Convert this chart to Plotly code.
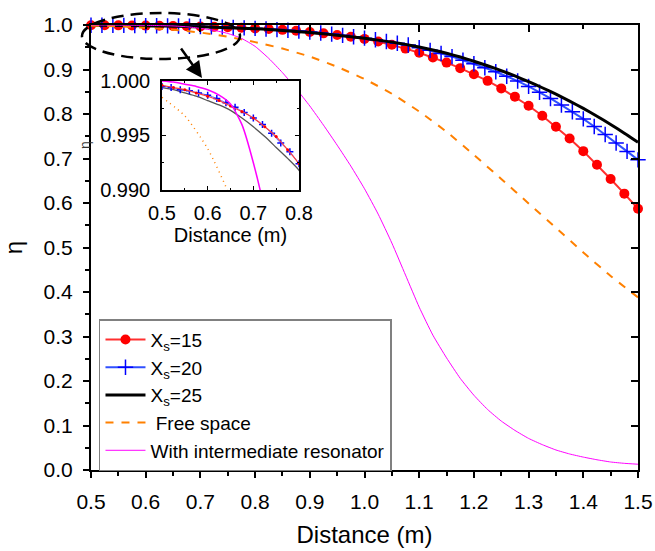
import plotly.graph_objects as go

# ---------------- data ----------------
dist_025 = [0.5, 0.525, 0.55, 0.575, 0.6, 0.625, 0.65, 0.675, 0.7, 0.725,
            0.75, 0.775, 0.8, 0.825, 0.85, 0.875, 0.9, 0.925, 0.95, 0.975,
            1.0, 1.025, 1.05, 1.075, 1.1, 1.125, 1.15, 1.175, 1.2, 1.225,
            1.25, 1.275, 1.3, 1.325, 1.35, 1.375, 1.4, 1.425, 1.45, 1.475, 1.5]

dist_020 = [0.5, 0.52, 0.54, 0.56, 0.58, 0.6, 0.62, 0.64, 0.66, 0.68,
            0.7, 0.72, 0.74, 0.76, 0.78, 0.8, 0.82, 0.84, 0.86, 0.88,
            0.9, 0.92, 0.94, 0.96, 0.98, 1.0, 1.02, 1.04, 1.06, 1.08,
            1.1, 1.12, 1.14, 1.16, 1.18, 1.2, 1.22, 1.24, 1.26, 1.28,
            1.3, 1.32, 1.34, 1.36, 1.38, 1.4, 1.42, 1.44, 1.46, 1.48, 1.5]

dist_050 = [0.5, 0.55, 0.6, 0.65, 0.7, 0.75, 0.8, 0.85, 0.9, 0.95,
            1.0, 1.05, 1.1, 1.15, 1.2, 1.25, 1.3, 1.35, 1.4, 1.45, 1.5]

eta_xs15 = [0.9996, 0.9994, 0.9992, 0.9989, 0.9986, 0.9982, 0.9977, 0.9972, 0.9966, 0.9958,
            0.9949, 0.9937, 0.9924, 0.9909, 0.9891, 0.9869, 0.9843, 0.9812, 0.9776, 0.9735,
            0.9688, 0.9628, 0.9555, 0.9470, 0.9375, 0.9270, 0.9155, 0.9030, 0.8895, 0.8745,
            0.8575, 0.8390, 0.8185, 0.7960, 0.7715, 0.7450, 0.7165, 0.6860, 0.6540, 0.6210, 0.5870]

eta_xs20 = [0.9995, 0.9994, 0.9992, 0.9991, 0.9989, 0.9987, 0.9984, 0.9980, 0.9976, 0.9971,
            0.9966, 0.9960, 0.9952, 0.9943, 0.9935, 0.9924, 0.9911, 0.9897, 0.9881, 0.9863,
            0.9843, 0.9820, 0.9795, 0.9767, 0.9737, 0.9705, 0.9670, 0.9630, 0.9590, 0.9550,
            0.9490, 0.9430, 0.9360, 0.9290, 0.9210, 0.9130, 0.9040, 0.8950, 0.8850, 0.8740,
            0.8620, 0.8490, 0.8350, 0.8200, 0.8050, 0.7890, 0.7720, 0.7540, 0.7350, 0.7160, 0.6970]

eta_xs25 = [0.9994, 0.9992, 0.9989, 0.9986, 0.9982, 0.9978, 0.9973, 0.9966, 0.9958, 0.9949,
            0.9939, 0.9929, 0.9918, 0.9898, 0.9877, 0.9855, 0.9830, 0.9803, 0.9772, 0.9738,
            0.9700, 0.9660, 0.9615, 0.9565, 0.9505, 0.9440, 0.9365, 0.9280, 0.9185, 0.9085,
            0.8975, 0.8855, 0.8725, 0.8590, 0.8445, 0.8290, 0.8125, 0.7950, 0.7765, 0.7570, 0.7365]

eta_free = [0.9985, 0.9968, 0.9938, 0.9893, 0.9830, 0.9735, 0.9615, 0.9470, 0.9290, 0.9060,
            0.8785, 0.8455, 0.8055, 0.7600, 0.7080, 0.6540, 0.5990, 0.5440, 0.4890, 0.4360, 0.3880]

eta_resonator = [1.0000, 0.9999, 0.9997, 0.9995, 0.9992, 0.9987, 0.9979, 0.9960, 0.9925, 0.9880,
                 0.9810, 0.9700, 0.9520, 0.9250, 0.8930, 0.8570, 0.8180, 0.7750, 0.7300, 0.6830,
                 0.6320, 0.5750, 0.5100, 0.4380, 0.3660, 0.3030, 0.2520, 0.2060, 0.1680, 0.1360,
                 0.1100, 0.0890, 0.0710, 0.0570, 0.0450, 0.0360, 0.0290, 0.0230, 0.0180, 0.0150, 0.0130]

series_names = ["X<sub>s</sub>=15", "X<sub>s</sub>=20", "X<sub>s</sub>=25",
                "\u00a0Free space", "With intermediate resonator"]

main_x_range = [0.5, 1.5]
main_y_range = [0.0, 1.0]
inset_x_range = [0.5, 0.8]
inset_y_range = [0.990, 1.000]
inset_y_ticks = [0.990, 0.995, 1.000]

FONT = "Arial, 'Liberation Sans', Helvetica, sans-serif"
RED = "#ff0000"
BLUE = "#0000ff"
ORANGE = "#ff8000"
MAGENTA = "#ff00ff"

fig = go.Figure()

# ---------------- main plot ----------------
fig.add_trace(go.Scatter(
    x=dist_025, y=eta_xs15, name=series_names[0], mode="lines+markers",
    line=dict(color="#ff3030", width=2),
    marker=dict(color=RED, size=10, symbol="circle"), cliponaxis=False))
fig.add_trace(go.Scatter(
    x=dist_020, y=eta_xs20, name=series_names[1], mode="lines+markers",
    line=dict(color="#3050ff", width=2),
    marker=dict(color=BLUE, size=11, symbol="cross-thin", line=dict(color=BLUE, width=1.5)),
    cliponaxis=False))
fig.add_trace(go.Scatter(
    x=dist_025, y=eta_xs25, name=series_names[2], mode="lines",
    line=dict(color="black", width=3, shape="spline", smoothing=0.5), cliponaxis=False))
fig.add_trace(go.Scatter(
    x=dist_050, y=eta_free, name=series_names[3], mode="lines",
    line=dict(color=ORANGE, width=2, dash="8px,8px", shape="spline", smoothing=0.6),
    cliponaxis=False))
fig.add_trace(go.Scatter(
    x=dist_025, y=eta_resonator, name=series_names[4], mode="lines",
    line=dict(color=MAGENTA, width=1, shape="spline", smoothing=0.5), cliponaxis=False))

# dummy trace to create the mirror (top/right) axes with inside ticks
fig.add_trace(go.Scatter(x=[], y=[], xaxis="x2", yaxis="y2", showlegend=False,
                         hoverinfo="skip"))

# ---------------- inset ----------------
fig.add_trace(go.Scatter(
    x=dist_050, y=eta_free, xaxis="x3", yaxis="y3", showlegend=False, mode="lines",
    line=dict(color=ORANGE, width=1.5, dash="1px,4px", shape="spline", smoothing=0.6)))
fig.add_trace(go.Scatter(
    x=dist_025, y=eta_xs25, xaxis="x3", yaxis="y3", showlegend=False, mode="lines",
    line=dict(color="#555555", width=1.3, shape="spline", smoothing=0.6)))
fig.add_trace(go.Scatter(
    x=dist_020, y=eta_xs20, xaxis="x3", yaxis="y3", showlegend=False, mode="lines+markers",
    line=dict(color="#6070ff", width=1, shape="spline", smoothing=0.6),
    marker=dict(color=BLUE, size=5, symbol="cross-thin", line=dict(color=BLUE, width=1.5))))
fig.add_trace(go.Scatter(
    x=dist_025, y=eta_xs15, xaxis="x3", yaxis="y3", showlegend=False, mode="lines+markers",
    line=dict(color="#ff4040", width=1.2, shape="spline", smoothing=0.6),
    marker=dict(color=RED, size=3)))
fig.add_trace(go.Scatter(
    x=dist_025, y=eta_resonator, xaxis="x3", yaxis="y3", showlegend=False, mode="lines",
    line=dict(color=MAGENTA, width=1.5, shape="spline", smoothing=0.6)))

axis_common = dict(showgrid=False, zeroline=False, showline=True, linecolor="black",
                   linewidth=2, tickcolor="black", automargin=False,
                   tickfont=dict(family=FONT, size=21, color="black"))

fig.update_layout(
    width=655, height=551,
    margin=dict(l=91, r=17, t=25, b=81, autoexpand=False),
    paper_bgcolor="white", plot_bgcolor="white",
    font=dict(family=FONT, color="black"),
    showlegend=True,
    legend=dict(x=0.0146, y=0.339, xanchor="left", yanchor="top",
                bordercolor="#808080", borderwidth=1.5, bgcolor="white",
                font=dict(family=FONT, size=19, color="black"),
                itemwidth=40, tracegroupgap=0),
    xaxis=dict(**axis_common, range=main_x_range, tickmode="linear", tick0=0.5, dtick=0.1,
               tickformat=".1f", ticks="outside", ticklen=6, tickwidth=2,
               ticklabelstandoff=6,
               minor=dict(dtick=0.05, ticks="outside", ticklen=4, tickwidth=1.5,
                          tickcolor="black", showgrid=False),
               title=dict(text="Distance (m)", font=dict(family=FONT, size=24), standoff=14)),
    yaxis=dict(**axis_common, range=main_y_range, tickmode="linear", tick0=0, dtick=0.1,
               tickformat=".1f", ticks="outside", ticklen=6, tickwidth=2,
               ticklabelstandoff=6,
               minor=dict(dtick=0.05, ticks="outside", ticklen=4, tickwidth=1.5,
                          tickcolor="black", showgrid=False),
               title=dict(text="η", font=dict(family=FONT, size=24), standoff=16)),
    xaxis2=dict(overlaying="x", side="top", anchor="y", range=main_x_range,
                tickmode="linear", tick0=0.5, dtick=0.2, ticks="inside", ticklen=7,
                tickwidth=2, tickcolor="black", showticklabels=False, showline=True,
                linecolor="black", linewidth=2, showgrid=False, zeroline=False,
                automargin=False,
                minor=dict(dtick=0.1, ticks="inside", ticklen=4, tickwidth=2,
                           tickcolor="black", showgrid=False)),
    yaxis2=dict(overlaying="y", side="right", anchor="x", range=main_y_range,
                tickmode="linear", tick0=0, dtick=0.1, ticks="inside", ticklen=7,
                tickwidth=2, tickcolor="black", showticklabels=False, showline=True,
                linecolor="black", linewidth=2, showgrid=False, zeroline=False,
                automargin=False),
    xaxis3=dict(domain=[0.1298, 0.3803], anchor="y3", range=inset_x_range,
                tickmode="linear", tick0=0.5, dtick=0.1, tickformat=".1f",
                ticks="inside", ticklen=4, tickwidth=1, tickcolor="black",
                mirror="ticks", showline=True, linecolor="black", linewidth=1.5,
                showgrid=False, zeroline=False, ticklabelstandoff=4, automargin=False,
                tickfont=dict(family=FONT, size=20, color="black"),
                minor=dict(dtick=0.05, ticks="inside", ticklen=2.5, tickwidth=1,
                           tickcolor="black", showgrid=False),
                title=dict(text="Distance (m)", font=dict(family=FONT, size=20), standoff=4)),
    yaxis3=dict(domain=[0.6292, 0.8742], anchor="x3", range=inset_y_range,
                tickmode="array", tickvals=inset_y_ticks, tickformat=".3f",
                ticks="inside", ticklen=4, tickwidth=1, tickcolor="black",
                mirror="ticks", showline=True, linecolor="black", linewidth=1.5,
                showgrid=False, zeroline=False, ticklabelstandoff=6, automargin=False,
                tickfont=dict(family=FONT, size=20, color="black"),
                minor=dict(tickvals=[0.9925, 0.9975], ticks="inside", ticklen=2.5,
                           tickwidth=1, tickcolor="black", showgrid=False)),
    shapes=[dict(type="circle", xref="paper", yref="paper",
                 x0=-0.0165, x1=0.2724, y0=0.9236, y1=1.027,
                 line=dict(color="black", width=2.5, dash="12px,7px"), layer="above")],
    annotations=[
        dict(xref="paper", yref="paper", x=0.2029, y=0.8809, ax=-22, ay=-31,
             text="", showarrow=True, arrowhead=2, arrowsize=1.3, arrowwidth=2.5,
             arrowcolor="black"),
        dict(xref="paper", yref="paper", x=-0.011, y=0.7303, text="η", showarrow=False,
             xanchor="center", yanchor="middle",
             textangle=-90, font=dict(family=FONT, size=14, color="#333333")),
    ],
)

fig.write_html("out.html", config={"displayModeBar": False},
               post_script="document.body.style.margin='0px';"
                           "document.body.style.padding='0px';"
                           "document.body.style.overflow='hidden';")
